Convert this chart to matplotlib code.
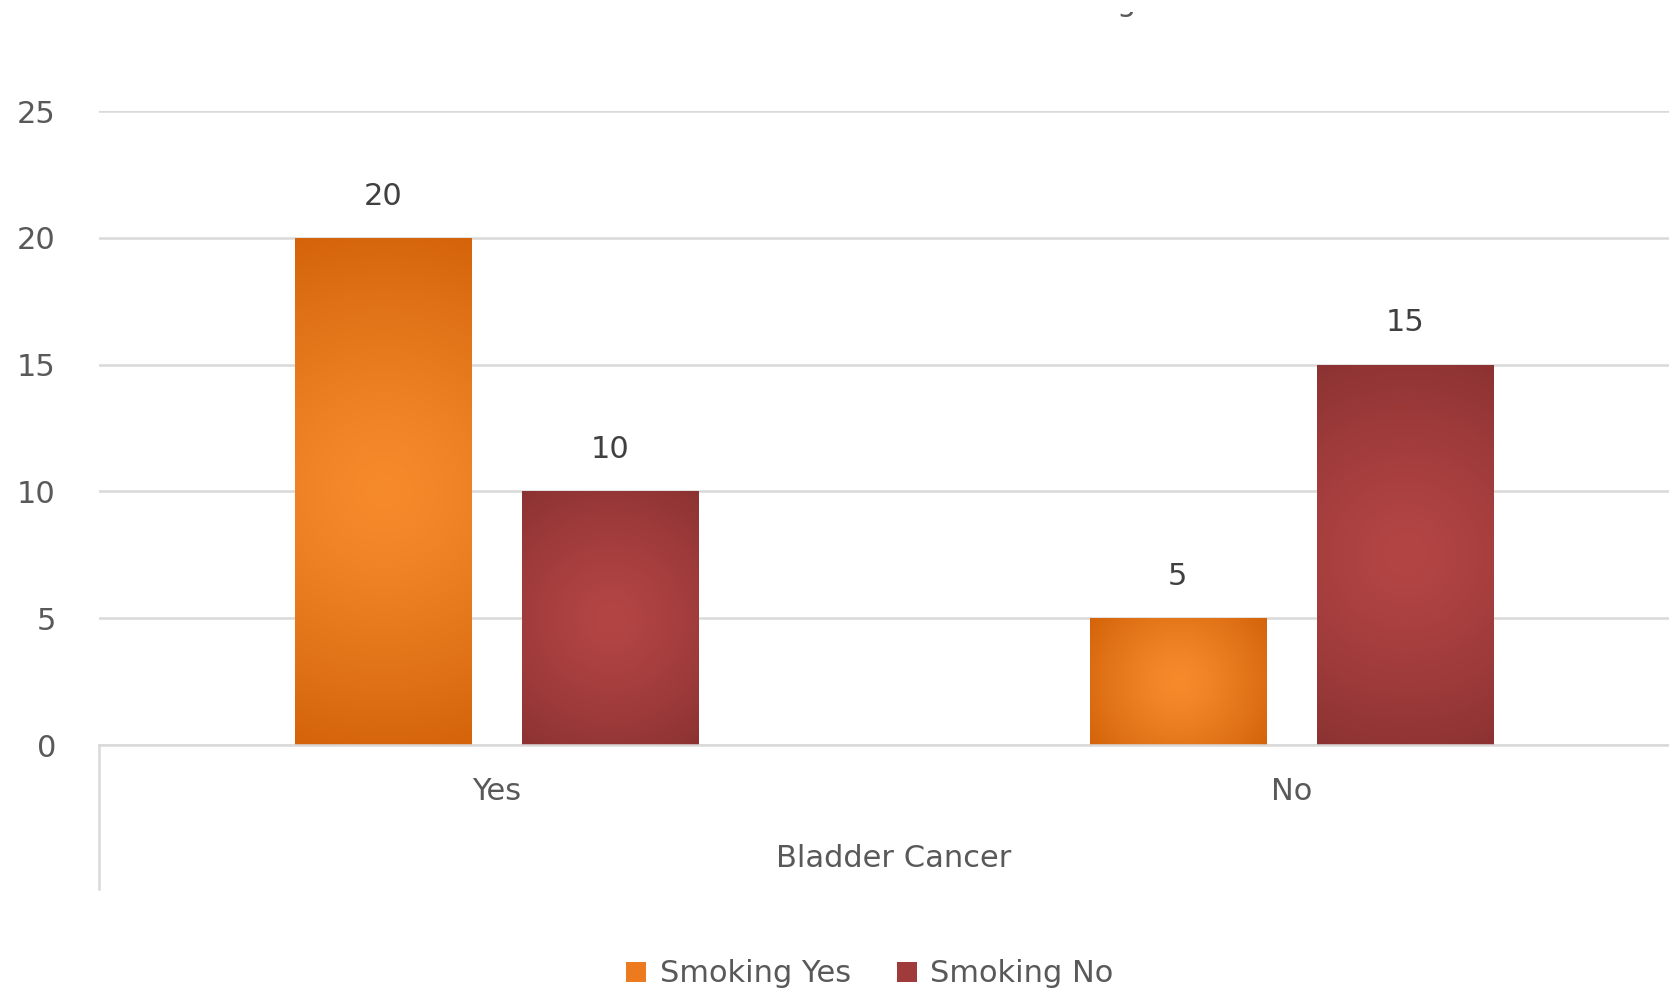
import numpy as np
import matplotlib
matplotlib.use("Agg")
import matplotlib.pyplot as plt
from matplotlib.colors import to_rgb
from matplotlib.patches import Patch
from matplotlib.lines import Line2D
from matplotlib.transforms import Bbox

categories = ["Yes", "No"]
smoking_yes = [20, 5]
smoking_no = [10, 15]
series_names = ["Smoking Yes", "Smoking No"]
yticks = [0, 5, 10, 15, 20, 25]

orange_center, orange_edge = "#F68B2C", "#D4630A"
red_center, red_edge = "#B44545", "#8C3232"
text_color = "#595959"
grid_color = "#D9D9D9"

plt.rcParams["font.family"] = "DejaVu Sans"
fs = 22

fig = plt.figure(figsize=(16.69, 9.94), dpi=100)
ax = fig.add_axes([0.0593, 0.2505, 0.9527, 0.6378])

x = np.arange(len(categories))
w = 0.222
off = 0.143
bars1 = ax.bar(x - off, smoking_yes, w, color=orange_edge, zorder=2)
bars2 = ax.bar(x + off, smoking_no, w, color=red_edge, zorder=2)
ax.set_xlim(-0.5, 1.5)
ax.set_ylim(0, 25)


def fill_gradient(bar, c0, c1):
    # radial gradient clipped to the bar, like the Excel fill
    x0, y0 = bar.get_x(), bar.get_y()
    bw, bh = bar.get_width(), bar.get_height()
    (px0, py0), (px1, py1) = ax.transData.transform([(x0, y0), (x0 + bw, y0 + bh)])
    wpx, hpx = abs(px1 - px0), abs(py1 - py0)
    X, Y = np.meshgrid(np.linspace(-wpx / 2, wpx / 2, 120), np.linspace(-hpx / 2, hpx / 2, 240))
    t = np.clip(np.hypot(X, Y) / np.hypot(wpx / 2, hpx / 2), 0, 1) ** 1.3
    img = (1 - t)[..., None] * np.array(to_rgb(c0)) + t[..., None] * np.array(to_rgb(c1))
    im = ax.imshow(img, extent=(x0, x0 + bw, y0, y0 + bh), origin="lower",
                   aspect="auto", zorder=2.5, interpolation="bilinear")
    im.set_clip_path(bar)


for b in bars1:
    fill_gradient(b, orange_center, orange_edge)
for b in bars2:
    fill_gradient(b, red_center, red_edge)
ax.set_xlim(-0.5, 1.5)
ax.set_ylim(0, 25)

for bars, vals in [(bars1, smoking_yes), (bars2, smoking_no)]:
    for b, v in zip(bars, vals):
        ax.annotate(str(v), (b.get_x() + b.get_width() / 2, v), xytext=(0, 30),
                    textcoords="offset points", ha="center", va="center",
                    fontsize=fs, color="#404040")

ax.set_yticks(yticks)
ax.set_xticks(x)
ax.set_xticklabels(categories)
ax.yaxis.grid(True, color=grid_color, lw=1.8, zorder=0)
ax.set_axisbelow(True)
for s in ["top", "right", "left"]:
    ax.spines[s].set_visible(False)
ax.spines["bottom"].set_color(grid_color)
ax.spines["bottom"].set_linewidth(1.8)
ax.tick_params(axis="y", length=0, pad=31, labelsize=fs, labelcolor=text_color)
ax.tick_params(axis="x", length=0, pad=23, labelsize=fs, labelcolor=text_color)

fig.add_artist(Line2D([0.0593, 0.0593], [0.2505, 0.1056], color=grid_color, lw=1.8))
fig.text(0.5356, 0.1368, "Bladder Cancer", ha="center", va="center", fontsize=fs, color=text_color)

# title is cut off at the top of the image, only a descender shows
t = fig.text(1126 / 1669, 0.9889, "g", ha="center", va="baseline", fontsize=22, color=text_color)
t.set_clip_on(True)
t.set_clip_box(Bbox([[1100, 0], [1160, 982]]))

handles = [Patch(facecolor="#EC7A1E"), Patch(facecolor="#A03B3B")]
fig.legend(handles, series_names, loc="center", bbox_to_anchor=(870 / 1669, 20 / 994),
           ncol=2, frameon=False, fontsize=fs, handlelength=0.65, handleheight=0.65,
           handletextpad=0.45, columnspacing=1.5, labelcolor=text_color)

fig.savefig("out.png", dpi=100)
